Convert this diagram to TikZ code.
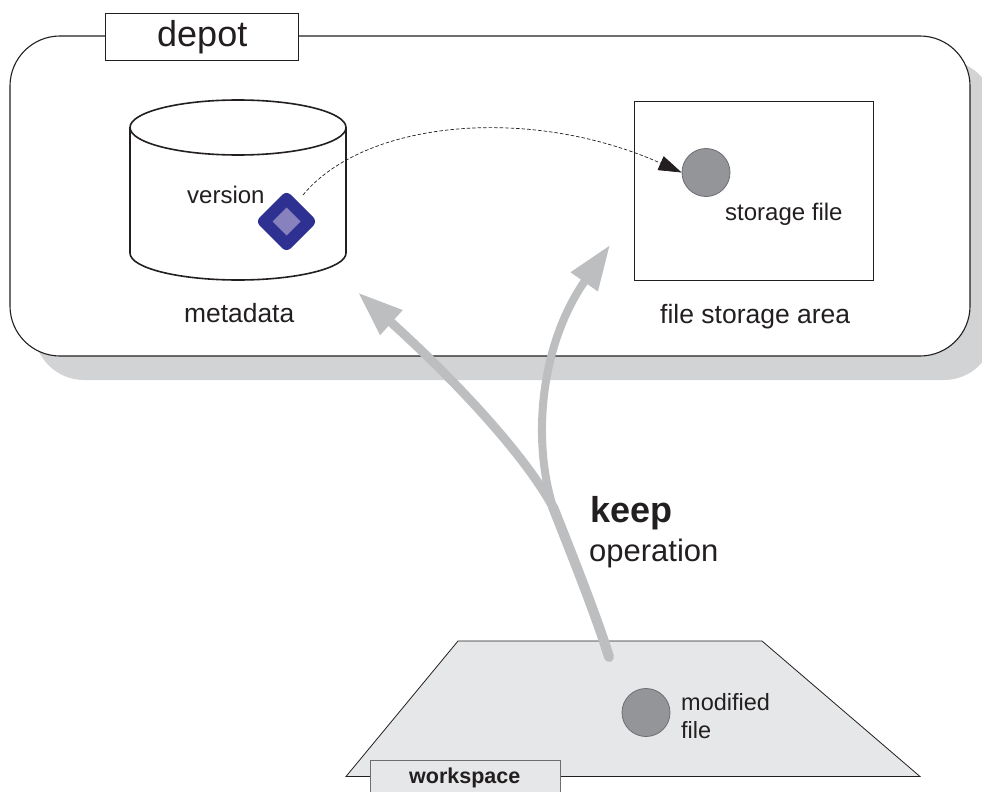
\documentclass[tikz,border=0pt]{standalone}
\usepackage{fontspec}
\setmainfont{Liberation Sans}
\usetikzlibrary{arrows.meta,shapes.geometric}
\definecolor{shadowgray}{HTML}{D1D3D4}
\definecolor{arrowgray}{HTML}{BCBEC0}
\definecolor{planegray}{HTML}{E6E7E8}
\definecolor{filegray}{HTML}{939598}
\definecolor{fileedge}{HTML}{6D6E71}
\definecolor{ink}{HTML}{231F20}
\definecolor{dnavy}{HTML}{2E3192}
\definecolor{dlight}{HTML}{8781BD}
\tikzset{
  lbl/.style={anchor=base west,inner sep=0pt,text=ink,font=\fontsize{#1}{#1}\selectfont},
  filedot/.style={circle,draw=fileedge,line width=0.8pt,fill=filegray,minimum size=48pt,inner sep=0pt},
  keeparrow/.style={draw=arrowgray,line width=#1,line cap=round,-{Triangle[length=45pt,width=31pt,fill=arrowgray]}},
  keeptrunk/.style={draw=arrowgray,line width=10pt,line cap=round},
  titlebox/.style={draw=ink,fill=white,line width=0.8pt,anchor=north west,inner sep=0pt},
}
\begin{document}
\begin{tikzpicture}[x=1pt,y=-1pt]
\useasboundingbox (0,0) rectangle (982,792);
\begin{scope}
\clip (0,0) rectangle (982,792);
% depot
\fill[shadowgray,rounded corners=50pt] (34,60) rectangle (994,380);
\draw[ink,fill=white,line width=1.1pt,rounded corners=50pt] (10,36) rectangle (970,356);
\node[titlebox,minimum width=193pt,minimum height=47pt] (depotbox) at (105,13) {};
\node[lbl=36] (depot) at (157,47) {depot};
% cylinder
\draw[ink,fill=white,line width=1.6pt] (130,127) -- (130,253) arc[start angle=180,end angle=0,x radius=108,y radius=27] -- (346,127);
\draw[ink,fill=white,line width=1.6pt] (238,127.5) ellipse[x radius=108,y radius=27.5];
\node[lbl=24] (version) at (187,203) {version};
\node[lbl=26.4] (metadata) at (184,322) {metadata};
\node[diamond,fill=dnavy,rounded corners=6pt,minimum size=62pt,inner sep=0pt,outer sep=0pt] (vmark) at (286.5,221.5) {};
\node[diamond,fill=dlight,minimum size=28pt,inner sep=0pt,outer sep=0pt] (vinner) at (286.5,221.5) {};
% storage
\node[draw=ink,fill=white,line width=0.8pt,anchor=north west,minimum width=239pt,minimum height=179pt,inner sep=0pt] (area) at (634,101) {};
\node[filedot] (storagefile) at (706,172.5) {};
\node[lbl=24] (storagetext) at (725,220) {storage file};
\node[lbl=26.5] (areatext) at (660,323) {file storage area};
\coordinate (vsrc) at (303,195);
\draw[ink,line width=0.7pt,dash pattern=on 3.5pt off 2pt,-{Triangle[length=23pt,width=15pt,fill=ink]}]
  (vsrc) .. controls (365,120) and (530,105) .. (storagefile.west);
% workspace
\draw[ink,line width=0.8pt,fill=planegray] (458,641) -- (762,641) -- (920,776.5) -- (346,776.5) -- cycle;
\coordinate (keepstart) at (609,657);
\coordinate (keepfork) at (553,507);
\coordinate (metatip) at (358,292.5);
\coordinate (areatip) at (610,245);
\draw[keeparrow=8pt] (keepfork) .. controls (532,440) and (540,345) .. (areatip);
\draw[keeparrow=9pt] (keepfork) .. controls (525,455) and (455,380) .. (metatip);
\draw[keeptrunk] (keepstart) .. controls (597,618) and (574,560) .. (keepfork);
\node[filedot] (modfile) at (646,712.5) {};
\node[lbl=23.5] (modtext) at (681,710) {modified};
\node[lbl=23.5] (filetext) at (681,738) {file};
\node[titlebox,draw=fileedge,fill=planegray,minimum width=190pt,minimum height=50pt] (wsbox) at (369.5,760) {};
\node[lbl=21.5] (wstext) at (409,783) {\bfseries workspace};
\node[lbl=36] (keep) at (590,522) {\bfseries keep};
\node[lbl=31] (operation) at (589,561) {operation};
\end{scope}
\end{tikzpicture}
\end{document}
